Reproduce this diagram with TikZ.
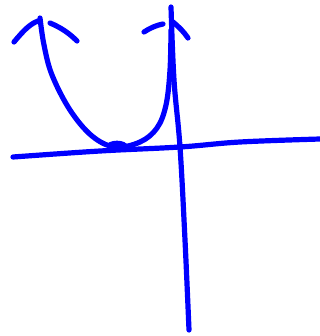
\documentclass[tikz,border=0pt]{standalone}
\usepackage{tikz}
\usetikzlibrary{calc}

\begin{document}
\begin{tikzpicture}[x=0.75pt, y=-0.75pt, line join=round, line cap=round]

\useasboundingbox (0,0) rectangle (320,336);

\tikzset{pen/.style={draw=blue, line width=3.9pt}}

% axes
\coordinate (xl) at (13,157);
\coordinate (o) at (180,147);
\coordinate (xr) at (320,139);
\coordinate (yt) at (171,7);
\coordinate (yb) at (189,330);

\draw[pen] plot[smooth, tension=0.6] coordinates {(xl) (100,151) (o) (240,142) (xr)};
\draw[pen] plot[smooth, tension=0.6] coordinates {(yt) (174,80) (o) (185,240) (yb)};

% the curve
\coordinate (tl) at (40,18);
\coordinate (tr) at (171,30);
\draw[pen] plot[smooth, tension=0.6] coordinates {(tl) (44,45) (52,75) (70,110) (92,136) (115,147) (140,142) (157,128) (166,105) (170,70) (tr)};
\fill[blue] (117,146) ellipse (8pt and 4pt);

% arrow heads (drawn by hand)
\draw[pen] (14,42) .. controls (24,30) and (30,24) .. (38,21);
\draw[pen] (50,23) .. controls (62,28) and (70,34) .. (77,41);
\draw[pen] (144,32) .. controls (150,28) and (157,25) .. (163,24);
\draw[pen] (173,22) .. controls (179,27) and (184,32) .. (188,38);

\end{tikzpicture}
\end{document}
